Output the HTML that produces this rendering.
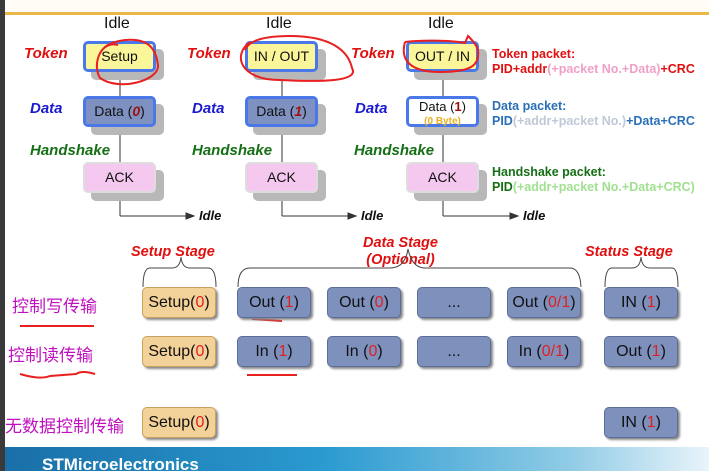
<!DOCTYPE html>
<html><head><meta charset="utf-8"><style>
body{margin:0;width:709px;height:471px;overflow:hidden;background:#fff;font-family:"Liberation Sans","Noto Sans CJK SC",sans-serif;position:relative}
.a{position:absolute}
.bx{position:absolute;box-sizing:border-box;border-radius:5px;text-align:center;font-size:14px;color:#111;box-shadow:8px 8px 0 #b8b8b8}
.tok{background:#fbf69a;border:3px solid #4a78e8}
.dat{background:#7e91c0;border:3px solid #4a78e8}
.ack{background:#f5c8f0;border:2px solid #ddd}
.lbl{position:absolute;font-weight:bold;font-style:italic;font-size:15px}
.idle{position:absolute;font-size:16px;color:#111}
.st{position:absolute;box-sizing:border-box;border-radius:5px;text-align:center;font-size:16px;color:#111;line-height:29px;background:#7e91bd;border:1px solid #5b6d98;box-shadow:2px 2px 2px #888}
.su{background:#f3d29a;border-color:#c9a060}
.r{color:#e02020}
.cn{position:absolute;color:#c010c0;font-size:17px}
.pk{position:absolute;font-weight:bold;font-size:12.5px;line-height:15px;white-space:nowrap}
</style></head><body>
<div class="a" style="left:0;top:0;width:5px;height:471px;background:#3a3a3a"></div>
<div class="a" style="left:5px;top:0;width:704px;height:12px;background:#fffdf6"></div>
<div class="a" style="left:5px;top:12px;width:704px;height:3px;background:#ebb84a"></div>

<div class="idle" style="left:104px;top:15px">Idle</div>
<div class="idle" style="left:266px;top:15px">Idle</div>
<div class="idle" style="left:428px;top:15px">Idle</div>

<svg class="a" style="left:0;top:0" width="709" height="471">
<g stroke="#333" stroke-width="1" fill="#333">
<line x1="120" y1="71" x2="120" y2="216"/><line x1="120" y1="216" x2="188" y2="216"/><polygon points="194,216 186,213 186,219"/>
<line x1="282" y1="71" x2="282" y2="216"/><line x1="282" y1="216" x2="350" y2="216"/><polygon points="356,216 348,213 348,219"/>
<line x1="443" y1="71" x2="443" y2="216"/><line x1="443" y1="216" x2="512" y2="216"/><polygon points="518,216 510,213 510,219"/>
</g>
</svg>

<div class="lbl" style="left:24px;top:45px;color:#e01010">Token</div>
<div class="lbl" style="left:30px;top:100px;color:#1a1ad0">Data</div>
<div class="lbl" style="left:30px;top:142px;color:#157015">Handshake</div>
<div class="lbl" style="left:187px;top:45px;color:#e01010">Token</div>
<div class="lbl" style="left:192px;top:100px;color:#1a1ad0">Data</div>
<div class="lbl" style="left:192px;top:142px;color:#157015">Handshake</div>
<div class="lbl" style="left:351px;top:45px;color:#e01010">Token</div>
<div class="lbl" style="left:355px;top:100px;color:#1a1ad0">Data</div>
<div class="lbl" style="left:354px;top:142px;color:#157015">Handshake</div>

<div class="bx tok" style="left:83px;top:41px;width:73px;height:31px;line-height:25px">Setup</div>
<div class="bx dat" style="left:83px;top:96px;width:73px;height:31px;line-height:25px">Data (<b style="color:#a01010"><i>0</i></b>)</div>
<div class="bx ack" style="left:83px;top:162px;width:73px;height:31px;line-height:27px">ACK</div>
<div class="bx tok" style="left:245px;top:41px;width:73px;height:31px;line-height:25px">IN / OUT</div>
<div class="bx dat" style="left:245px;top:96px;width:73px;height:31px;line-height:25px">Data (<b style="color:#a01010"><i>1</i></b>)</div>
<div class="bx ack" style="left:245px;top:162px;width:73px;height:31px;line-height:27px">ACK</div>
<div class="bx tok" style="left:406px;top:41px;width:73px;height:31px;line-height:25px">OUT / IN</div>
<div class="bx" style="left:406px;top:96px;width:73px;height:31px;background:#fff;border:3px solid #4a78e8;line-height:13px;font-size:13px;padding-top:1px">Data (<b style="color:#a01010">1</b>)<br><span style="color:#e8b020;font-size:10px;font-weight:bold">(0 Byte)</span></div>
<div class="bx ack" style="left:406px;top:162px;width:73px;height:31px;line-height:27px">ACK</div>

<div class="pk" style="left:492px;top:47px;color:#e01010">Token packet:<br>PID+addr<span style="color:#f0a0c8">(+packet No.+Data)</span>+CRC</div>
<div class="pk" style="left:492px;top:99px;color:#2a70b8">Data packet:<br>PID<span style="color:#c0c8d8">(+addr+packet No.)</span>+Data+CRC</div>
<div class="pk" style="left:492px;top:165px;color:#157015">Handshake packet:<br>PID<span style="color:#a0e090">(+addr+packet No.+Data+CRC)</span></div>

<div class="lbl" style="left:199px;top:208px;font-size:13px;color:#111">Idle</div>
<div class="lbl" style="left:361px;top:208px;font-size:13px;color:#111">Idle</div>
<div class="lbl" style="left:523px;top:208px;font-size:13px;color:#111">Idle</div>

<div class="lbl" style="left:131px;top:244px;font-size:14.5px;color:#e01010">Setup Stage</div>
<div class="lbl" style="left:363px;top:235px;font-size:14.5px;color:#e01010;text-align:center;line-height:17px">Data Stage<br>(Optional)</div>
<div class="lbl" style="left:585px;top:244px;font-size:14.5px;color:#e01010">Status Stage</div>

<svg class="a" style="left:0;top:0" width="709" height="471">
<g stroke="#444" stroke-width="1" fill="none">
<path d="M143,287 Q143,268 150,268 L172,268 Q180,268 181,257 Q182,268 190,268 L208,268 Q216,268 216,287"/>
<path d="M238,287 Q238,268 250,268 L390,268 Q405,268 408,249 Q412,268 425,268 L570,268 Q580,268 581,287"/>
<path d="M605,287 Q605,268 612,268 L632,268 Q640,268 641,257 Q642,268 650,268 L672,268 Q678,268 678,287"/>
</g>
<g stroke="#e82020" stroke-width="2" fill="none">
<path d="M118,45 C100,40 92,65 100,78 C120,92 160,80 158,65 C156,50 150,38 125,40 Q110,42 104,48"/>
<path d="M250,42 C232,55 240,80 280,80 C320,82 360,82 352,68 C348,50 330,36 290,36 C260,36 248,42 245,50"/>
<path d="M405,42 C400,60 410,72 440,72 C470,72 480,66 478,50 C476,44 472,40 468,36 L465,43 C450,40 420,40 405,42"/>
<path d="M20,326 L94,326"/><path d="M20,374 Q40,380 50,376 L76,374 Q82,370 95,374"/>
<path d="M252,319 L282,321"/><path d="M247,375 L297,375"/>
</g>
</svg>

<div class="cn" style="left:12px;top:292px">控制写传输</div>
<div class="cn" style="left:8px;top:341px">控制读传输</div>
<div class="cn" style="left:5px;top:412px">无数据控制传输</div>

<div class="st su" style="left:142px;top:287px;width:74px;height:31px">Setup(<span class="r">0</span>)</div>
<div class="st" style="left:237px;top:287px;width:74px;height:31px">Out (<span class="r">1</span>)</div>
<div class="st" style="left:327px;top:287px;width:74px;height:31px">Out (<span class="r">0</span>)</div>
<div class="st" style="left:417px;top:287px;width:74px;height:31px">...</div>
<div class="st" style="left:507px;top:287px;width:74px;height:31px">Out (<span class="r">0/1</span>)</div>
<div class="st" style="left:604px;top:287px;width:74px;height:31px">IN (<span class="r">1</span>)</div>

<div class="st su" style="left:142px;top:336px;width:74px;height:31px">Setup(<span class="r">0</span>)</div>
<div class="st" style="left:237px;top:336px;width:74px;height:31px">In (<span class="r">1</span>)</div>
<div class="st" style="left:327px;top:336px;width:74px;height:31px">In (<span class="r">0</span>)</div>
<div class="st" style="left:417px;top:336px;width:74px;height:31px">...</div>
<div class="st" style="left:507px;top:336px;width:74px;height:31px">In (<span class="r">0/1</span>)</div>
<div class="st" style="left:604px;top:336px;width:74px;height:31px">Out (<span class="r">1</span>)</div>

<div class="st su" style="left:142px;top:407px;width:74px;height:31px">Setup(<span class="r">0</span>)</div>
<div class="st" style="left:604px;top:407px;width:74px;height:31px">IN (<span class="r">1</span>)</div>

<div class="a" style="left:5px;top:447px;width:704px;height:24px;background:linear-gradient(90deg,#1a6fa8 0%,#2a9ad0 45%,#8fcbe6 80%,#e8f4fa 100%)"></div>
<div class="a" style="left:42px;top:455px;color:#fff;font-weight:bold;font-size:17px">STMicroelectronics</div>
</body></html>
